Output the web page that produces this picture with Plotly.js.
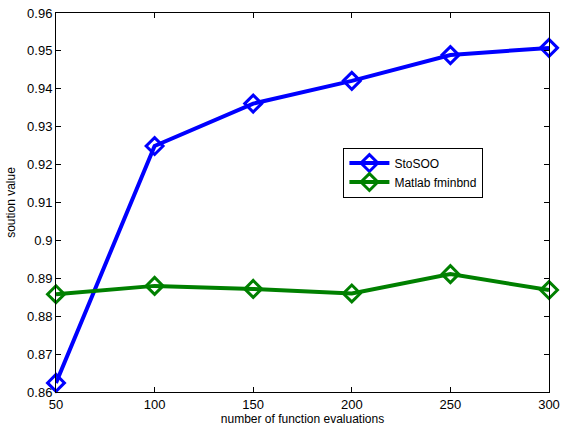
<!DOCTYPE html>
<html><head><meta charset="utf-8">
<script src="https://cdn.plot.ly/plotly-3.0.1.min.js"></script>
<style>body{margin:0;background:#fff}#c{width:570px;height:427px}</style>
</head><body><div id="c"></div>
<script>
var xVals = [50, 100, 150, 200, 250, 300];
var stosoo = [0.8624, 0.9249, 0.9361, 0.9421, 0.9489, 0.9508];
var fminbnd = [0.8858, 0.8880, 0.8872, 0.8860, 0.8911, 0.8869];
var names = ["StoSOO", "Matlab fminbnd"];
var xTicks = [50, 100, 150, 200, 250, 300];
var yTicks = [0.86, 0.87, 0.88, 0.89, 0.9, 0.91, 0.92, 0.93, 0.94, 0.95, 0.96];
var yTickText = ["0.86","0.87","0.88","0.89","0.9","0.91","0.92","0.93","0.94","0.95","0.96"];

function tr(y, name, color) {
  return {x: xVals, y: y, name: name, type: 'scatter', mode: 'lines+markers', cliponaxis: false,
    line: {color: color, width: 4},
    marker: {symbol: 'diamond-open', size: 13, color: color, line: {width: 3, color: color}}};
}
var data = [tr(stosoo, names[0], '#0000ff'), tr(fminbnd, names[1], '#008000')];
var ax = {showgrid: false, zeroline: false, showline: true, linecolor: '#000', linewidth: 1,
  mirror: 'ticks', ticks: 'inside', ticklen: 5, tickcolor: '#000',
  tickfont: {family: 'Liberation Sans, Arial', size: 13, color: '#000'}};
var layout = {
  width: 570, height: 427, paper_bgcolor: '#fff', plot_bgcolor: '#fff',
  margin: {l: 56, r: 21, t: 13, b: 35},
  font: {family: 'Liberation Sans, Arial', color: '#000'},
  xaxis: Object.assign({}, ax, {range: [50, 300], tickvals: xTicks,
    title: {text: 'number of function evaluations', font: {size: 12}, standoff: 2}}),
  yaxis: Object.assign({}, ax, {range: [0.86, 0.96], tickvals: yTicks, ticktext: yTickText,
    title: {text: 'soution value', font: {size: 12}, standoff: 8}}),
  showlegend: true,
  legend: {x: 0.583, y: 0.645, xanchor: 'left', yanchor: 'top', bgcolor: '#fff',
    bordercolor: '#000', borderwidth: 1, font: {size: 12}, tracegroupgap: 0, itemwidth: 40},
};
Plotly.newPlot('c', data, layout, {displayModeBar: false, staticPlot: true});
</script></body></html>
